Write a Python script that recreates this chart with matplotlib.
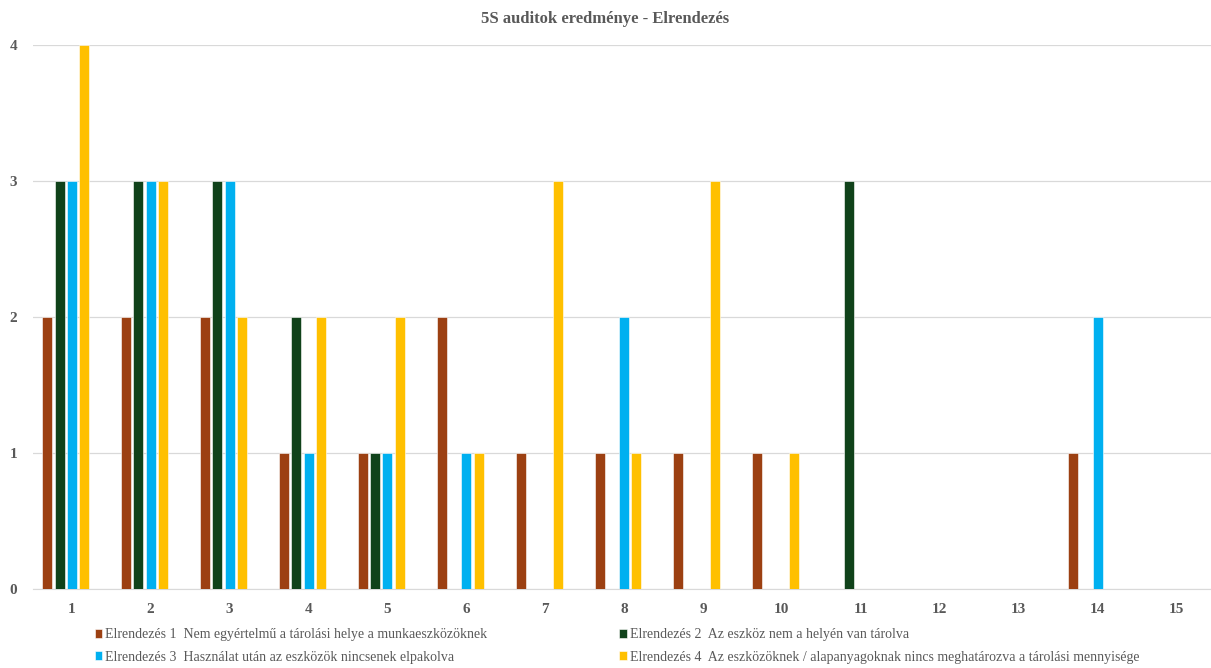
import numpy as np
import matplotlib.pyplot as plt
from matplotlib.transforms import ScaledTranslation

categories = [str(i) for i in range(1, 16)]
series_names = [
    "Elrendezés 1  Nem egyértelmű a tárolási helye a munkaeszközöknek",
    "Elrendezés 2  Az eszköz nem a helyén van tárolva",
    "Elrendezés 3  Használat után az eszközök nincsenek elpakolva",
    "Elrendezés 4  Az eszközöknek / alapanyagoknak nincs meghatározva a tárolási mennyisége",
]
elrendezes_1 = [2, 2, 2, 1, 1, 2, 1, 1, 1, 1, 0, 0, 0, 1, 0]
elrendezes_2 = [3, 3, 3, 2, 1, 0, 0, 0, 0, 0, 3, 0, 0, 0, 0]
elrendezes_3 = [3, 3, 3, 1, 1, 1, 0, 2, 0, 0, 0, 0, 0, 2, 0]
elrendezes_4 = [4, 3, 2, 2, 2, 1, 3, 1, 3, 1, 0, 0, 0, 0, 0]
colors = ["#9C4012", "#10421A", "#00B0F0", "#FFC000"]

plt.rcParams['font.family'] = ['Liberation Serif', 'DejaVu Serif']
text_color = "#595959"

fig = plt.figure(figsize=(12.11, 6.68), dpi=100)
ax = fig.add_axes([0.0273, 0.1183, 0.9727, 0.8143])

x = np.arange(len(categories))
step = 0.156
width = 0.127
handles = []
for i, vals in enumerate([elrendezes_1, elrendezes_2, elrendezes_3, elrendezes_4]):
    h = ax.bar(x + (i - 1.5) * step, vals, width, color=colors[i],
               edgecolor="white", linewidth=0.4, zorder=3, label=series_names[i])
    handles.append(h)

ax.set_xlim(-0.414, 14.516)
ax.set_ylim(0, 4)
ax.set_yticks(range(5))
ax.set_xticks(x)
ax.set_xticklabels(categories)
ax.grid(axis='y', color="#D9D9D9", linewidth=0.9, zorder=0)
for s in ['left', 'right', 'top']:
    ax.spines[s].set_visible(False)
ax.spines['bottom'].set_color("#D9D9D9")
ax.tick_params(length=0, labelsize=11, labelcolor=text_color, pad=10)
ax.tick_params(axis='y', pad=11.5)
shift = ScaledTranslation(6 / 100, 0, fig.dpi_scale_trans)
for lab in ax.get_xticklabels():
    lab.set_transform(lab.get_transform() + shift)
for lab in ax.get_xticklabels() + ax.get_yticklabels():
    lab.set_fontweight('bold')

fig.text(0.5, 0.972, "5S auditok eredménye - Elrendezés", ha='center', va='center',
         fontsize=12, fontweight='bold', color=text_color)

order = [0, 2, 1, 3]
fig.legend([handles[i] for i in order], [series_names[i] for i in order],
           ncol=2, loc='lower left', bbox_to_anchor=(0.068, -0.012), frameon=False,
           fontsize=10, labelcolor=text_color, handlelength=0.55, handleheight=0.55,
           handletextpad=0.2, columnspacing=9.5, labelspacing=0.65)

fig.savefig("out.png", dpi=100)
